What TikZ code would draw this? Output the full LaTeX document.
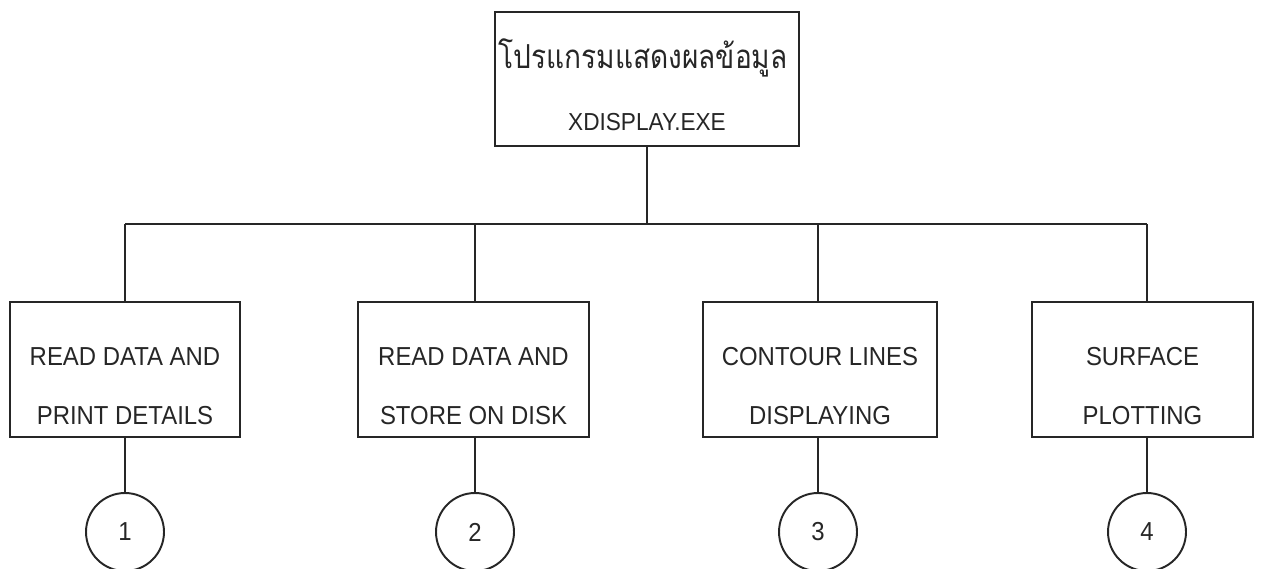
\documentclass[tikz,border=0pt]{standalone}
\usepackage{fontspec}
\setmainfont{Liberation Sans}[FakeStretch=0.92]
\newfontfamily\thaifont[Script=Thai, FakeStretch=0.85]{Loma}

\begin{document}
\begin{tikzpicture}[
  x=0.02cm, y=-0.02cm,
  box/.style={draw=black!85, line width=1.1pt, inner sep=0pt, minimum height=2.7cm},
  boxtext/.style={anchor=base, inner sep=0pt, text=black!85, font=\fontsize{14.8}{17}\selectfont},
  num/.style={draw=black!85, circle, line width=1.1pt, minimum size=1.56cm, inner sep=0pt,
    text=black!85, font=\fontsize{14.8}{17}\selectfont},
  link/.style={draw=black!85, line width=1.1pt}
]
\useasboundingbox (0,0) rectangle (1261,568);

% main program
\node[box, minimum width=6.08cm, minimum height=2.68cm] at (647,79) (prog) {};
\node[boxtext, font=\thaifont\fontsize{18.8}{21}\selectfont] at (643,68) (progth) {โปรแกรมแสดงผลข้อมูล};
\node[boxtext, font=\fontsize{14}{16}\selectfont] at (647,130) (progexe) {XDISPLAY.EXE};

% the four modules
\node[box, minimum width=4.6cm] at (125,369.5) (read) {};
\node[boxtext] at (125,365) (read1) {READ DATA AND};
\node[boxtext] at (125,424) (read2) {PRINT DETAILS};

\node[box, minimum width=4.62cm] at (473.5,369.5) (store) {};
\node[boxtext] at (473.5,365) (store1) {READ DATA AND};
\node[boxtext] at (473.5,424) (store2) {STORE ON DISK};

\node[box, minimum width=4.68cm] at (820,369.5) (contour) {};
\node[boxtext] at (820,365) (contour1) {CONTOUR LINES};
\node[boxtext] at (820,424) (contour2) {DISPLAYING};

\node[box, minimum width=4.42cm] at (1142.5,369.5) (surface) {};
\node[boxtext] at (1142.5,365) (surface1) {SURFACE};
\node[boxtext] at (1142.5,424) (surface2) {PLOTTING};

% numbered connectors
\node[num] at (125,532) (num1) {1};
\node[num] at (475,532) (num2) {2};
\node[num] at (818,532) (num3) {3};
\node[num] at (1147,532) (num4) {4};

% bus line
\coordinate (bus1) at (125,224);
\coordinate (bus4) at (1147,224);
\coordinate (bustop) at (647,224);

\draw[link] (prog.south) -- (bustop);
\draw[link] (bus1) -- (bus4);
\foreach \i/\b in {1/read, 2/store, 3/contour, 4/surface} {
  \draw[link] (num\i |- bus1) -- (num\i |- \b.north);
  \draw[link] (num\i |- \b.south) -- (num\i);
}
\end{tikzpicture}
\end{document}
